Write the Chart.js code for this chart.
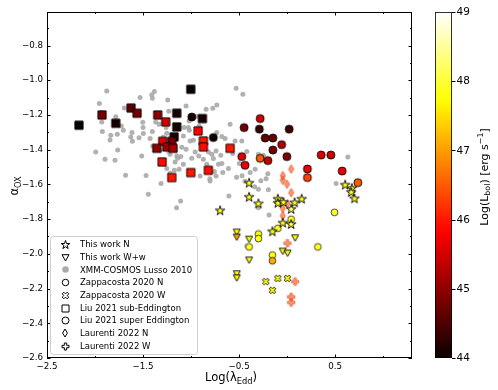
<!DOCTYPE html>
<html><head><meta charset="utf-8">
<script src="https://cdn.jsdelivr.net/npm/chart.js@4.4.1/dist/chart.umd.min.js"></script>
<style>html,body{margin:0;padding:0;background:#fff;}canvas{display:block;}</style>
</head><body>
<canvas id="c" width="498" height="390"></canvas>
<script>
// ---------- DATA ----------
const xTickLabels = [-2.5, -1.5, -0.5, 0.5];
const cbarTicks = [44, 45, 46, 47, 48, 49];

const starX = [-0.396,-0.396,-0.299,-0.698,-0.097,-0.097,-0.039,0.078,0.151,0.042,-0.045,0.042,-0.153,0.604,0.674,0.667,0.701];
const starY = [-1.590,-1.671,-1.709,-1.749,-1.682,-1.706,-1.701,-1.703,-1.682,-1.741,-1.820,-1.828,-1.870,-1.601,-1.621,-1.643,-1.680];
const starL = [47.8,47.8,47.8,47.8,47.9,47.8,47.8,47.8,47.8,48.3,47.8,47.9,47.8,47.8,47.8,47.9,47.8];

const triX = [-0.524,-0.524,-0.396,-0.396,-0.524,-0.524,-0.045,0.005,0.083];
const triY = [-1.874,-1.903,-1.915,-2.035,-2.114,-2.138,-1.984,-1.995,-1.907];
const triL = [47.8,47.1,47.8,47.8,47.8,47.7,47.8,47.8,47.8];

const xmmX = [-1.878,-1.955,-1.932,-1.784,-1.695,-1.531,-1.409,-1.403,-1.382,-1.243,
 -1.232,-1.503,-1.368,-1.333,-1.052,-1.021,-0.934,-0.917,-0.844,-0.774,
 -0.732,-0.594,-0.531,-0.461,-1.726,-1.500,-1.028,-1.930,-1.924,-1.836,
 -1.844,-1.768,-1.705,-1.615,-1.628,-1.611,-1.542,-1.497,-1.427,-1.403,
 -1.260,-1.253,-1.289,-1.764,-1.993,-1.896,-1.514,-1.399,-1.323,-1.236,
 -1.219,-1.167,-1.149,-1.792,-1.682,-1.469,-1.445,-1.313,-1.253,-1.219,
 -1.174,-1.167,-1.140,-1.151,-1.109,-1.125,-1.073,-1.018,-1.080,-1.010,
 -0.976,-1.052,-1.097,-0.958,-0.820,-0.740,-0.691,-0.784,-0.768,-0.680,
 -0.646,-0.542,-0.472,-0.732,-0.420,-0.299,-0.247,-1.107,-0.920,-0.872,
 -0.993,-0.836,-0.715,-0.757,-0.670,-0.611,-0.526,-0.469,-0.438,-0.385,
 -0.333,-0.274,-0.219,-0.201,-0.195,-0.299,-0.339,-0.606,-0.188,-0.805,
 -0.740,-0.497,-0.566,-0.680,0.510,0.632,-0.420,-1.080,-0.906,-0.299,
 -0.802];
const xmmY = [-1.062,-1.134,-1.186,-1.210,-1.160,-1.100,-1.084,-1.104,-1.065,-1.114,
 -1.178,-1.242,-1.240,-1.254,-1.148,-1.235,-1.209,-1.263,-1.167,-1.161,
 -1.142,-1.254,-1.046,-1.081,-1.263,-1.273,-1.273,-1.240,-1.296,-1.317,
 -1.344,-1.311,-1.288,-1.301,-1.327,-1.352,-1.331,-1.307,-1.336,-1.296,
 -1.273,-1.305,-1.327,-1.402,-1.413,-1.455,-1.436,-1.379,-1.403,-1.409,
 -1.427,-1.403,-1.436,-1.461,-1.548,-1.549,-1.657,-1.595,-1.509,-1.536,
 -1.519,-1.471,-1.450,-1.734,-1.695,-1.513,-1.273,-1.288,-1.321,-1.350,
 -1.346,-1.398,-1.386,-1.413,-1.413,-1.407,-1.432,-1.427,-1.451,-1.324,
 -1.336,-1.350,-1.350,-1.301,-1.411,-1.427,-1.432,-1.440,-1.436,-1.455,
 -1.450,-1.484,-1.484,-1.526,-1.532,-1.509,-1.559,-1.550,-1.582,-1.532,
 -1.513,-1.579,-1.567,-1.538,-1.631,-1.628,-1.614,-1.667,-1.776,-1.567,
 -1.552,-1.480,-1.422,-1.480,-1.595,-1.442,-1.955,-1.484,-1.552,-1.734,
 -1.580];

const zapNX = [0.042,-0.097,-0.299,-0.299,-0.396,-0.153,-0.153,0.320,0.493];
const zapNY = [-1.801,-1.853,-1.886,-1.912,-1.960,-2.007,-2.040,-1.960,-1.761];
const zapNL = [47.9,47.8,47.8,47.8,47.9,47.8,47.1,47.9,47.9];

const zapWX = [-0.222,-0.097,0.003,-0.153];
const zapWY = [-2.160,-2.141,-2.141,-2.210];
const zapWL = [47.8,47.8,47.8,47.8];

const liuSubX = [-2.167,-1.927,-1.784,-1.625,-1.563,-1.347,-1.264,-1.149,-1.149,-1.003,-0.882,-1.177,-0.927,-1.295,-1.201,-1.357,-1.253,-1.188,-0.872,-0.872,-0.594,-1.302,-1.201,-1.003,-0.820];
const liuSubY = [-1.259,-1.200,-1.248,-1.160,-1.190,-1.200,-1.240,-1.190,-1.269,-1.052,-1.221,-1.326,-1.292,-1.352,-1.352,-1.392,-1.384,-1.392,-1.350,-1.384,-1.392,-1.471,-1.561,-1.532,-1.519];
const liuSubL = [44.0,44.8,44.1,44.6,44.8,45.0,45.5,44.1,44.1,44.0,44.1,44.1,45.8,45.6,44.8,45.0,45.1,45.2,46.0,45.9,46.0,45.9,46.0,46.0,45.9];

const liuSupX = [-0.993,-0.281,-0.448,-0.289,0.021,-0.768,-0.229,-0.149,-0.057,-0.149,-0.003,-0.472,-0.281,-0.201,-0.438,0.354,0.455,0.211,0.211,0.573,0.736];
const liuSupY = [-1.212,-1.221,-1.273,-1.282,-1.282,-1.330,-1.333,-1.333,-1.371,-1.402,-1.440,-1.440,-1.450,-1.463,-1.490,-1.431,-1.431,-1.511,-1.561,-1.523,-1.590];
const liuSupL = [44.1,45.5,44.8,44.3,44.4,44.0,44.7,44.7,45.3,44.8,44.9,45.6,46.5,45.4,45.7,45.6,45.5,45.7,46.3,45.7,46.5];

const lauNX = [0.042,-0.045,-0.045,-0.002,0.042,0.003,-0.045,-0.045];
const lauNY = [-1.512,-1.550,-1.576,-1.599,-1.648,-1.712,-1.738,-1.781];
const lauNL = [46.4,46.4,46.4,46.4,46.4,46.4,46.4,46.4];

const lauWX = [0.003,0.083,0.042,0.042];
const lauWY = [-1.939,-2.160,-2.248,-2.280];
const lauWL = [46.4,46.4,46.4,46.4];

const legendLabels = ["This work N","This work W+w","XMM-COSMOS Lusso 2010","Zappacosta 2020 N","Zappacosta 2020 W","Liu 2021 sub-Eddington","Liu 2021 super Eddington","Laurenti 2022 N","Laurenti 2022 W"];

// ---------- HELPERS ----------
const FONT = '"DejaVu Sans", sans-serif';
const L_MIN = 44, L_MAX = 49;
function hotRGB(t) {
  t = Math.min(1, Math.max(0, t));
  const r = t < 0.365079 ? 0.0416 + (1 - 0.0416) * t / 0.365079 : 1;
  const g = t < 0.365079 ? 0 : (t < 0.746032 ? (t - 0.365079) / (0.746032 - 0.365079) : 1);
  const b = t < 0.746032 ? 0 : (t - 0.746032) / (1 - 0.746032);
  return [Math.round(r * 255), Math.round(g * 255), Math.round(b * 255)];
}
function hot(L, a) {
  const c = hotRGB((L - L_MIN) / (L_MAX - L_MIN));
  return `rgba(${c[0]},${c[1]},${c[2]},${a == null ? 1 : a})`;
}
function marker(shape, size, fill, stroke, lw) {
  const s = Math.ceil(size + lw * 2 + 4);
  const c = document.createElement('canvas'); c.width = s; c.height = s;
  const g = c.getContext('2d'); g.translate(s / 2, s / 2);
  const r = size / 2;
  g.beginPath();
  if (shape === 'star') {
    for (let i = 0; i < 10; i++) {
      const rr = i % 2 ? r * 0.381966 : r;
      const a = -Math.PI / 2 + i * Math.PI / 5;
      g.lineTo(rr * Math.cos(a), rr * Math.sin(a) + r * 0.1);
    }
    g.closePath();
  } else if (shape === 'circle') {
    g.arc(0, 0, r, 0, Math.PI * 2);
  } else if (shape === 'square') {
    g.rect(-r, -r, 2 * r, 2 * r);
  } else if (shape === 'tri') {
    g.moveTo(0, r); g.lineTo(-r, -r * 0.8); g.lineTo(r, -r * 0.8); g.closePath();
  } else if (shape === 'diamond') {
    g.moveTo(0, -r); g.lineTo(0.6 * r, 0); g.lineTo(0, r); g.lineTo(-0.6 * r, 0); g.closePath();
  } else if (shape === 'plus' || shape === 'x') {
    const u = size / 6;
    const pts = [[-u,-3*u],[u,-3*u],[u,-u],[3*u,-u],[3*u,u],[u,u],[u,3*u],[-u,3*u],[-u,u],[-3*u,u],[-3*u,-u],[-u,-u]];
    const ang = shape === 'x' ? Math.PI / 4 : 0;
    const ca = Math.cos(ang), sa = Math.sin(ang);
    pts.forEach((p, i) => { const x = p[0] * ca - p[1] * sa, y = p[0] * sa + p[1] * ca; i ? g.lineTo(x, y) : g.moveTo(x, y); });
    g.closePath();
  }
  if (fill) { g.fillStyle = fill; g.fill(); }
  if (stroke && lw > 0) { g.strokeStyle = stroke; g.lineWidth = lw; g.lineJoin = 'miter'; g.stroke(); }
  return c;
}
function pts(xs, ys) { return xs.map((x, i) => ({ x: x, y: ys[i] })); }
function fmt(v) { return v.toFixed(1).replace('-', '\u2212'); }

const SPEC = {
  star:   { shape: 'star', size: 10, lw: 0.9 },
  tri:    { shape: 'tri', size: 7, lw: 0.9 },
  zapN:   { shape: 'circle', size: 6.8, lw: 0.8 },
  zapW:   { shape: 'x', size: 7, lw: 0.9 },
  liuSub: { shape: 'square', size: 8.2, lw: 0.9 },
  liuSup: { shape: 'circle', size: 8, lw: 0.9 },
  lauN:   { shape: 'diamond', size: 9, lw: 0.8 },
  lauW:   { shape: 'plus', size: 7.5, lw: 0.8 }
};
function styles(key, Ls, alpha, edge) {
  const sp = SPEC[key];
  return Ls.map(L => marker(sp.shape, sp.size, hot(L, alpha), edge ? edge : 'rgba(205,80,50,0.75)', sp.lw));
}

const datasets = [
  { label: legendLabels[2], data: pts(xmmX, xmmY), pointStyle: 'circle', pointRadius: 2.5, backgroundColor: 'rgba(168,168,168,0.9)', borderWidth: 0, order: 9 },
  { label: legendLabels[5], data: pts(liuSubX, liuSubY), pointStyle: styles('liuSub', liuSubL, 1, '#000'), pointRadius: 4, order: 8 },
  { label: legendLabels[6], data: pts(liuSupX, liuSupY), pointStyle: styles('liuSup', liuSupL, 1, '#000'), pointRadius: 4, order: 7 },
  { label: legendLabels[3], data: pts(zapNX, zapNY), pointStyle: styles('zapN', zapNL, 1, '#222'), pointRadius: 4, order: 6 },
  { label: legendLabels[4], data: pts(zapWX, zapWY), pointStyle: styles('zapW', zapWL, 1, '#000'), pointRadius: 4, order: 5 },
  { label: legendLabels[7], data: pts(lauNX, lauNY), pointStyle: styles('lauN', lauNL, 0.6, null), pointRadius: 4, order: 4 },
  { label: legendLabels[8], data: pts(lauWX, lauWY), pointStyle: styles('lauW', lauWL, 0.6, null), pointRadius: 4, order: 3 },
  { label: legendLabels[1], data: pts(triX, triY), pointStyle: styles('tri', triL, 1, '#000'), pointRadius: 4, order: 2 },
  { label: legendLabels[0], data: pts(starX, starY), pointStyle: styles('star', starL, 1, '#000'), pointRadius: 4, order: 1 }
];

// ---------- PLUGINS ----------
function drawRich(ctx, parts, cx, cy, size, rot) {
  ctx.save(); ctx.translate(cx, cy); ctx.rotate(rot || 0);
  let w = 0;
  parts.forEach(p => { ctx.font = `${p.s ? size * 0.72 : size}px ${FONT}`; w += ctx.measureText(p.t).width; });
  let x = -w / 2;
  ctx.textAlign = 'left'; ctx.textBaseline = 'alphabetic'; ctx.fillStyle = '#000';
  parts.forEach(p => {
    const fs = p.s ? size * 0.72 : size;
    ctx.font = `${fs}px ${FONT}`;
    const dy = p.s === -1 ? size * 0.22 : (p.s === 1 ? -size * 0.42 : 0);
    ctx.fillText(p.t, x, size * 0.36 + dy);
    x += ctx.measureText(p.t).width;
  });
  ctx.restore();
}

const framePlugin = {
  id: 'frame',
  afterDatasetsDraw(chart) {
    const ctx = chart.ctx, a = chart.chartArea, xs = chart.scales.x, ys = chart.scales.y;
    ctx.save();
    ctx.strokeStyle = '#000'; ctx.lineWidth = 1;
    ctx.beginPath();
    for (let v = -2.5; v <= 1.3001; v += 0.5) {
      const px = Math.round(xs.getPixelForValue(v)) + 0.5;
      const major = xTickLabels.some(t => Math.abs(t - v) < 1e-6);
      const len = major ? 3.5 : 2;
      ctx.moveTo(px, a.bottom); ctx.lineTo(px, a.bottom - len);
      ctx.moveTo(px, a.top); ctx.lineTo(px, a.top + len);
    }
    for (let k = -26; k <= -7; k++) {
      const v = k / 10;
      const py = Math.round(ys.getPixelForValue(v)) + 0.5;
      const len = (k % 2 === 0) ? 3.5 : 2;
      ctx.moveTo(a.left, py); ctx.lineTo(a.left + len, py);
      ctx.moveTo(a.right, py); ctx.lineTo(a.right - len, py);
    }
    ctx.stroke();
    ctx.strokeRect(Math.round(a.left) + 0.5, Math.round(a.top) + 0.5, Math.round(a.right - a.left) - 1, Math.round(a.bottom - a.top) - 1);

    // legend
    const lx = 50.5, ly = 236.5, lw = 147, lh = 118, rr = 3;
    ctx.beginPath();
    ctx.moveTo(lx + rr, ly); ctx.lineTo(lx + lw - rr, ly); ctx.quadraticCurveTo(lx + lw, ly, lx + lw, ly + rr);
    ctx.lineTo(lx + lw, ly + lh - rr); ctx.quadraticCurveTo(lx + lw, ly + lh, lx + lw - rr, ly + lh);
    ctx.lineTo(lx + rr, ly + lh); ctx.quadraticCurveTo(lx, ly + lh, lx, ly + lh - rr);
    ctx.lineTo(lx, ly + rr); ctx.quadraticCurveTo(lx, ly, lx + rr, ly); ctx.closePath();
    ctx.fillStyle = 'rgba(255,255,255,0.85)'; ctx.fill();
    ctx.strokeStyle = '#d0d0d0'; ctx.lineWidth = 1; ctx.stroke();
    const legMarkers = [
      marker('star', 9, '#fff', '#000', 1),
      marker('tri', 7, '#fff', '#000', 1),
      marker('circle', 6.5, '#aaaaaa', null, 0),
      marker('circle', 6.5, '#fff', '#000', 1),
      marker('x', 7, '#fff', '#000', 1),
      marker('square', 7, '#fff', '#000', 1),
      marker('circle', 7, '#fff', '#000', 1),
      marker('diamond', 8, '#fff', '#000', 1),
      marker('plus', 7, '#fff', '#000', 1)
    ];
    ctx.font = `8.5px ${FONT}`; ctx.fillStyle = '#000'; ctx.textAlign = 'left'; ctx.textBaseline = 'middle';
    legendLabels.forEach((t, i) => {
      const yy = 244.5 + i * 12.7;
      const m = legMarkers[i];
      ctx.drawImage(m, Math.round(65 - m.width / 2), Math.round(yy - m.height / 2));
      ctx.fillText(t, 80, yy + 0.5);
    });
    ctx.restore();
  },
  afterDraw(chart) {
    const ctx = chart.ctx;
    ctx.save();
    drawRich(ctx, [{ t: 'Log(\u03bb' }, { t: 'Edd', s: -1 }, { t: ')' }], 231, 377, 11.5, 0);
    drawRich(ctx, [{ t: '\u03b1' }, { t: 'OX', s: -1 }], 14, 186, 11.5, -Math.PI / 2);
    const x0 = 435, x1 = 452, y0 = 12, y1 = 358;
    const grad = ctx.createLinearGradient(0, y1, 0, y0);
    for (let i = 0; i <= 50; i++) {
      const c = hotRGB(i / 50);
      grad.addColorStop(i / 50, `rgb(${c[0]},${c[1]},${c[2]})`);
    }
    ctx.fillStyle = grad; ctx.fillRect(x0, y0, x1 - x0, y1 - y0);
    ctx.strokeStyle = '#000'; ctx.lineWidth = 0.8; ctx.strokeRect(x0 + 0.5, y0 + 0.5, x1 - x0 - 1, y1 - y0 - 1);
    ctx.font = `10.5px ${FONT}`; ctx.fillStyle = '#000'; ctx.textAlign = 'left'; ctx.textBaseline = 'middle';
    ctx.beginPath();
    cbarTicks.forEach(L => {
      const py = y1 - (L - L_MIN) / (L_MAX - L_MIN) * (y1 - y0);
      const yy = Math.round(py) + 0.5;
      ctx.moveTo(x1, yy); ctx.lineTo(x1 + 3.5, yy);
      ctx.fillText(String(L), x1 + 4.5, py + 0.5);
    });
    ctx.lineWidth = 1; ctx.stroke();
    drawRich(ctx, [{ t: 'Log(L' }, { t: 'bol', s: -1 }, { t: ') [erg s' }, { t: '\u22121', s: 1 }, { t: ']' }], 484, 177, 11, -Math.PI / 2);
    ctx.restore();
  }
};

new Chart(document.getElementById('c'), {
  type: 'scatter',
  data: { datasets: datasets },
  options: {
    responsive: false, animation: false, devicePixelRatio: 1, events: [],
    layout: { padding: { top: 12, right: 86, left: 0, bottom: 0 } },
    plugins: { legend: { display: false }, tooltip: { enabled: false } },
    scales: {
      x: {
        type: 'linear', min: -2.5, max: 1.3,
        afterFit(s) { s.height = 32; },
        grid: { display: false, drawTicks: false, tickLength: 0 },
        border: { display: false },
        ticks: {
          stepSize: 0.5, includeBounds: false, autoSkip: false, maxRotation: 0, padding: 4,
          color: '#000', font: { family: FONT, size: 8.7 },
          callback: v => xTickLabels.some(t => Math.abs(t - v) < 1e-6) ? fmt(v) : ''
        }
      },
      y: {
        type: 'linear', min: -2.6, max: -0.607,
        afterFit(s) { s.width = 47; },
        grid: { display: false, drawTicks: false, tickLength: 0 },
        border: { display: false },
        ticks: {
          stepSize: 0.2, includeBounds: false, autoSkip: false, padding: 4,
          color: '#000', font: { family: FONT, size: 8.7 },
          callback: v => fmt(v)
        }
      }
    }
  },
  plugins: [framePlugin]
});
</script>
</body></html>
